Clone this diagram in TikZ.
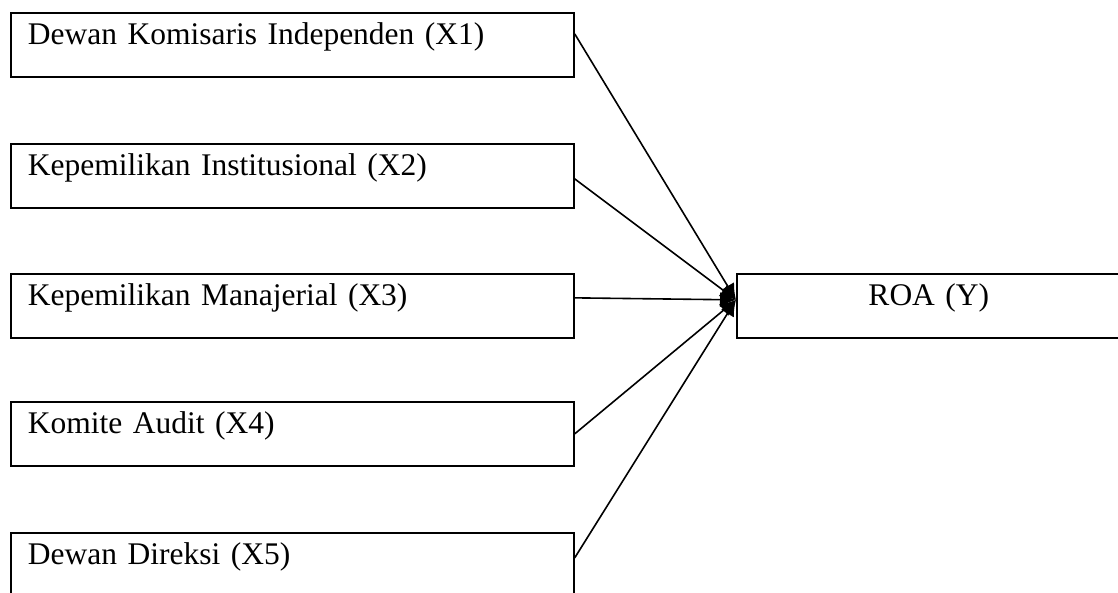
\documentclass[tikz,border=0pt]{standalone}
\usepackage{fontspec}
\setmainfont{Liberation Serif}
\usetikzlibrary{arrows.meta}

\begin{document}
\begin{tikzpicture}[x=1pt,y=-1pt,
        varbox/.style={draw,line width=1.7pt,anchor=north west,inner xsep=17pt,inner ysep=0pt,
                text width=529pt,align=left,text height=32pt,text depth=32pt,
                font=\fontsize{31.5}{36}\selectfont},
        roabox/.style={varbox,text width=350pt,align=center},
        link/.style={-{Latex[length=16pt,width=15pt]},line width=1.6pt}]
        
        \useasboundingbox (0,0) rectangle (1118,592);
        
        %independent variables
        \node[varbox] (X1) at (10,12) {Dewan Komisaris Independen (X1)};
        \node[varbox] (X2) at (10,143) {Kepemilikan Institusional (X2)};
        \node[varbox] (X3) at (10,273) {Kepemilikan Manajerial (X3)};
        \node[varbox] (X4) at (10,401) {Komite Audit (X4)};
        \node[varbox] (X5) at (10,532) {Dewan Direksi (X5)};
        
        %dependent variable
        \node[roabox] (Y) at (736,273) {ROA (Y)};
        
        %arrows
        \draw [link] ([yshift=11pt]X1.east) -- ([yshift=6pt]Y.west);
        \draw [link] ([yshift=-3pt]X2.east) -- ([yshift=6pt]Y.west);
        \draw [link] ([yshift=8pt]X3.east) -- ([yshift=6pt]Y.west);
        \draw [link] (X4.east) -- ([yshift=6pt]Y.west);
        \draw [link] ([yshift=7pt]X5.east) -- ([yshift=6pt]Y.west);
        
\end{tikzpicture}
\end{document}
